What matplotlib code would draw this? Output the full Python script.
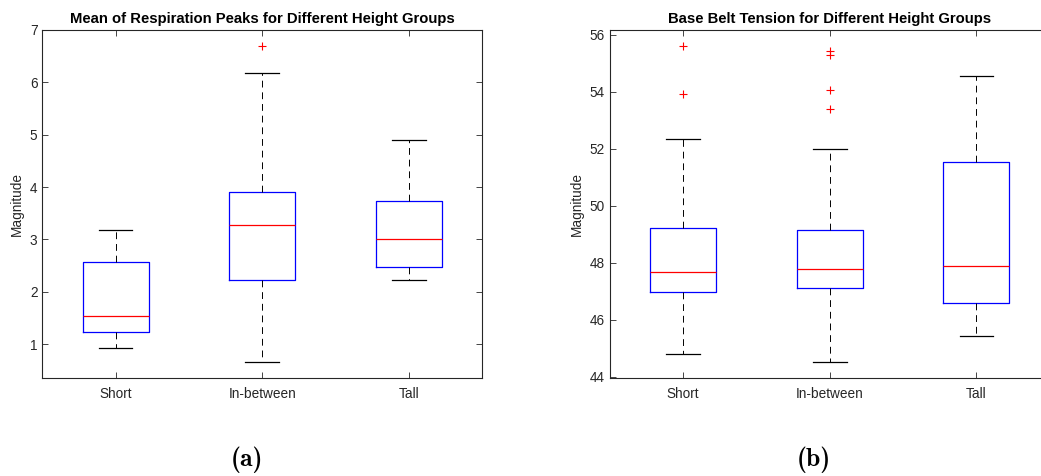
import matplotlib
matplotlib.use("Agg")
import matplotlib.pyplot as plt

plt.rcParams["font.family"] = ["Liberation Sans", "DejaVu Sans"]

groups = ["Short", "In-between", "Tall"]

# respiration peaks: five-number summaries per group
resp_low = [0.93, 0.66, 2.22]
resp_q1 = [1.24, 2.22, 2.47]
resp_med = [1.54, 3.27, 3.00]
resp_q3 = [2.57, 3.91, 3.73]
resp_high = [3.18, 6.17, 4.90]
resp_out = [[], [6.69], []]

# base belt tension
belt_low = [44.78, 44.50, 45.42]
belt_q1 = [46.98, 47.09, 46.58]
belt_med = [47.66, 47.79, 47.88]
belt_q3 = [49.23, 49.15, 51.52]
belt_high = [52.34, 51.98, 54.53]
belt_out = [[55.59, 53.91], [55.44, 55.28, 54.07, 53.39], []]

GRAY = (0.15, 0.15, 0.15)


def make_stats(low, q1, med, q3, high, out):
    stats = []
    for i in range(len(groups)):
        stats.append(dict(whislo=low[i], q1=q1[i], med=med[i], q3=q3[i],
                          whishi=high[i], fliers=out[i], label=groups[i]))
    return stats


def draw(ax, stats, title, ylim, yticks):
    ax.bxp(stats, widths=0.45, showfliers=True,
           boxprops=dict(color="blue", linewidth=0.9),
           medianprops=dict(color="red", linewidth=0.9),
           whiskerprops=dict(color="black", linewidth=0.7, linestyle=(0, (7, 5))),
           capprops=dict(color="black", linewidth=0.9),
           capwidths=0.23,
           flierprops=dict(marker="+", markeredgecolor="red", markersize=6,
                           markeredgewidth=0.8, linestyle="none"))
    ax.set_xlim(0.5, 3.5)
    ax.set_ylim(*ylim)
    ax.set_yticks(yticks)
    ax.set_title(title, fontsize=10.7, fontweight="bold", pad=5)
    ax.set_ylabel("Magnitude", fontsize=9.8, color=GRAY)
    ax.tick_params(direction="in", top=True, right=True, length=4, width=0.6,
                   colors=GRAY, labelsize=9.8, labelcolor=GRAY)
    ax.tick_params(axis="x", pad=7)
    for s in ax.spines.values():
        s.set_color(GRAY)
        s.set_linewidth(0.8)


fig = plt.figure(figsize=(10.41, 4.76), dpi=100)
ax1 = fig.add_axes([0.0406, 0.2065, 0.4227, 0.7305])
ax2 = fig.add_axes([0.5857, 0.2065, 0.4227, 0.7305])

draw(ax1, make_stats(resp_low, resp_q1, resp_med, resp_q3, resp_high, resp_out),
     "Mean of Respiration Peaks for Different Height Groups", (0.36, 7), range(1, 8))
draw(ax2, make_stats(belt_low, belt_q1, belt_med, belt_q3, belt_high, belt_out),
     "Base Belt Tension for Different Height Groups", (43.96, 56.16), range(44, 57, 2))

# sub-figure captions in bold Computer Modern
fig.text(246.7 / 1041, 1 - 460 / 476, "(a)", fontfamily="cmb10", fontsize=18.5,
         ha="center", va="center")
fig.text(814 / 1041, 1 - 460 / 476, "(b)", fontfamily="cmb10", fontsize=18.5,
         ha="center", va="center")

fig.savefig("out.png", dpi=100)
